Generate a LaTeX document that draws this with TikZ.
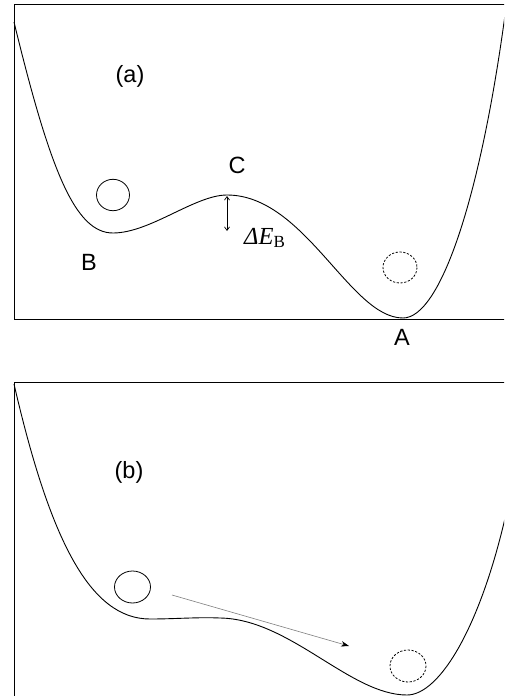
\documentclass[tikz,border=0pt]{standalone}
\usepackage{fontspec}
\setmainfont{Liberation Sans}
\newfontfamily\serifrm{Liberation Serif}
\usetikzlibrary{arrows.meta}
\tikzset{
  frame/.style={line width=0.8pt, black},
  energy/.style={line width=0.9pt, black},
  particle/.style={line width=0.8pt, black},
  ghost/.style={line width=0.8pt, black, dash pattern=on 2.2pt off 1.6pt},
  lbl/.style={font=\fontsize{23.5}{25}\selectfont, inner sep=0pt},
  gap/.style={line width=0.7pt, {Straight Barb[length=3.5pt,width=5pt]}-{Straight Barb[length=3.5pt,width=5pt]}},
  move/.style={line width=0.6pt, gray, -{Stealth[length=8pt,width=5.5pt,black]}}
}
\begin{document}
\begin{tikzpicture}[x=1pt,y=-1pt]
\useasboundingbox (0,0) rectangle (504,696);
\clip (0,0) rectangle (504,696);
\fill[white] (0,0) rectangle (504,696);

% ---------- panel (a) ----------
\draw[frame] (506,4) -- (14,4) -- (14,319) -- (506,319);
\draw[energy] (14,22) .. controls (50,170) and (75,233) .. (113,233)
  .. controls (150,233) and (195,195) .. (227,195)
  .. controls (305,195) and (350,318) .. (403,318)
  .. controls (440,318) and (480,200) .. (505,15);
\draw[particle] (113,195) ellipse [x radius=16.5, y radius=15.7];
\draw[ghost] (400,267.5) ellipse [x radius=17, y radius=15.5];
\coordinate (ctop) at (227,196);
\coordinate (cbot) at (227,231);
\draw[gap] (ctop) -- (cbot);
\node[lbl] (la) at (130,76) {(a)};
\node[lbl] (lc) at (237,165) {C};
\node[lbl] (lb) at (89,262) {B};
\node[lbl] (lA) at (402,337) {A};
\node[inner sep=0pt, anchor=base west] (de) at (244,244)
  {\serifrm\fontsize{24.5}{26}\selectfont\itshape ΔE\raisebox{-3pt}{\upshape\fontsize{17}{18}\selectfont B}};

% ---------- panel (b) ----------
\draw[frame] (506,382) -- (14,382) -- (14,700);
\draw[energy] (14,384) .. controls (50,540) and (90,619) .. (150,619)
  .. controls (175,619) and (198,617) .. (220,618)
  .. controls (290,619) and (350,695) .. (407,695)
  .. controls (440,695) and (482,625) .. (508,505);
\draw[particle] (132.5,587) ellipse [x radius=18, y radius=16];
\draw[ghost] (408,666) ellipse [x radius=18, y radius=16];
\coordinate (mstart) at (172,595);
\coordinate (mend) at (349,646);
\draw[move] (mstart) -- (mend);
\node[lbl] (lbb) at (129,472) {(b)};
\end{tikzpicture}
\end{document}
